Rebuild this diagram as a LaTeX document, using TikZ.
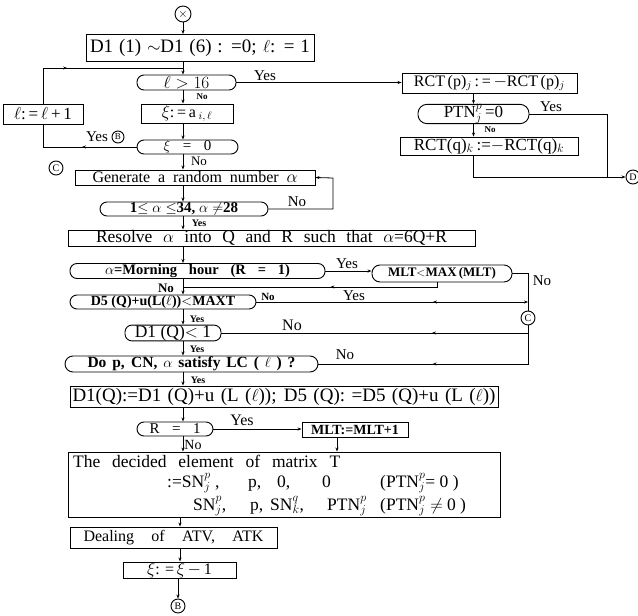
\documentclass[tikz,border=0pt]{standalone}
\usepackage{fontspec}
\setmainfont{Liberation Serif}
\usetikzlibrary{arrows.meta,decorations.markings}
\newcommand\myfs[1]{\fontsize{#1}{#1}\selectfont}
\tikzset{
  bx/.style={draw, line width=0.9pt, inner sep=0pt, rectangle},
  tm/.style={bx, rounded corners=7pt},
  cn/.style={draw, circle, line width=0.9pt, inner sep=0pt, minimum size=14pt, font=\myfs{10}},
  lb/.style={inner sep=0pt, font=\myfs{15}},
  slb/.style={inner sep=0pt, font=\bfseries\myfs{9}},
  ln/.style={line width=0.8pt},
  ar/.style={ln, -{Stealth[length=4pt,width=3pt]}},
  mar/.style={ln, postaction={decorate}, decoration={markings, mark=at position #1 with {\arrow{Stealth[length=4pt,width=3pt]}}}},
  rmar/.style={ln, postaction={decorate}, decoration={markings, mark=at position #1 with {\arrowreversed{Stealth[length=4pt,width=3pt]}}}},
}
\begin{document}
\begin{tikzpicture}[x=1pt,y=-1pt]
\useasboundingbox (0,0) rectangle (638,616);
\coordinate (mx) at (183,0);
\coordinate (mx2) at (180,0);
\coordinate (x437) at (437,0);
\coordinate (x337) at (337,0);
% nodes
\node[cn, minimum size=16pt, font=\myfs{12}] (c0) at (183,14) {$\times$};
\node[bx, minimum width=228pt, minimum height=27pt, font=\myfs{19}] (d1) at (200,48) {\makebox[220pt][s]{D1 (1) $\sim$D1 (6) : =0; $\ell$: = 1}};
\node[tm, minimum width=99pt, minimum height=15pt, font=\myfs{16}] (l16) at (186.5,82.5) {$\ell>16$};
\node[bx, minimum width=92pt, minimum height=19pt, font=\myfs{16}] (xia) at (187,113.5) {$\xi$:\,=\,a\,$_{i,\,\ell}$};
\node[bx, minimum width=80pt, minimum height=20pt, font=\myfs{17}] (linc) at (43,114) {$\ell$:\,=\,$\ell$\,+\,1};
\node[tm, minimum width=101pt, minimum height=14pt, font=\myfs{15}] (xi0) at (187.5,147) {\makebox[48pt][s]{$\xi$ = 0}};
\node[cn] (cC1) at (56,168) {C};
\node[bx, minimum width=240pt, minimum height=15pt, font=\myfs{16}] (gen) at (195,177.5) {\makebox[205pt][s]{Generate a random number $\alpha$}};
\node[tm, minimum width=168pt, minimum height=14pt, font=\bfseries\myfs{15}] (alph) at (184,209) {1$\leq\alpha\leq$34, $\alpha\neq$28};
\node[bx, minimum width=407pt, minimum height=16pt, font=\myfs{17.5}] (res) at (271.5,238) {\makebox[351pt][s]{Resolve $\alpha$ into Q and R such that $\alpha$=6Q+R}};
\node[tm, minimum width=255pt, minimum height=15pt, font=\bfseries\myfs{14.5}] (morn) at (197.5,271) {\makebox[185pt][s]{$\alpha$=Morning hour (R = 1)}};
\node[tm, minimum width=140pt, minimum height=17pt, rounded corners=8pt, font=\bfseries\myfs{13}] (mltmax) at (442,273.5) {MLT$<$MAX\,(MLT)};
\node[tm, minimum width=186pt, minimum height=14pt, font=\bfseries\myfs{14}] (d5) at (163,302) {D5 (Q)+u(L($\ell$))$<$MAXT};
\node[tm, minimum width=96pt, minimum height=14pt, font=\myfs{17.5}] (d1q) at (173,333) {D1 (Q)$<$ 1};
\node[tm, minimum width=253pt, minimum height=16pt, rounded corners=8pt, font=\bfseries\myfs{15.5}] (dop) at (191.5,364) {\makebox[208pt][s]{Do p, CN, $\alpha$ satisfy LC ( $\ell$ ) ?}};
\node[bx, minimum width=428pt, minimum height=21pt, font=\myfs{19}] (d1d5) at (284,396.5) {\makebox[423pt][s]{D1(Q):=D1 (Q)+u (L ($\ell$)); D5 (Q): =D5 (Q)+u (L ($\ell$))}};
\node[tm, minimum width=76pt, minimum height=14pt, font=\myfs{15}] (r1) at (175,429) {\makebox[51pt][s]{R = 1}};
\node[bx, minimum width=106pt, minimum height=15pt, font=\bfseries\myfs{14}] (mltp) at (355,429.5) {MLT:=MLT+1};
\node[bx, minimum width=432pt, minimum height=65pt] (mat) at (284,484.5) {};
\node[bx, minimum width=207pt, minimum height=21pt, font=\myfs{16}] (deal) at (173.5,537.5) {\makebox[180pt][s]{Dealing of ATV, ATK}};
\node[bx, minimum width=113pt, minimum height=16pt, font=\myfs{16}] (xim) at (179.5,570) {$\xi$: =\,$\xi$\,$-$\,1};
\node[cn] (cB) at (178,606) {B};
\node[bx, minimum width=175pt, minimum height=20pt, font=\myfs{16}] (rctp) at (489.5,83) {RCT\,(p)$_j$\,:\,=\,$-$RCT\,(p)$_j$};
\node[tm, minimum width=111pt, minimum height=18pt, rounded corners=9pt, font=\myfs{17}] (ptn) at (473.5,114) {PTN$^p_j$\,=0};
\node[bx, minimum width=178pt, minimum height=18pt, font=\myfs{17}] (rctq) at (489,146) {RCT(q)$_k$\,:=$-$RCT(q)$_k$};
\node[cn] (cD) at (633,177) {D};
\node[cn] (cC2) at (528,318) {C};
% matrix text
\begin{scope}[font=\myfs{17.5}]
\node[anchor=base west, inner sep=0pt] (t1) at (73,467) {\makebox[267pt][s]{The decided element of matrix T}};
\node[anchor=base west, inner sep=0pt] (t2a) at (167,487) {:=SN$^p_j$ ,};
\node[anchor=base west, inner sep=0pt] (t2b) at (248,487) {p,};
\node[anchor=base west, inner sep=0pt] (t2c) at (277,487) {0,};
\node[anchor=base west, inner sep=0pt] (t2d) at (322,487) {0};
\node[anchor=base west, inner sep=0pt] (t2e) at (380,487) {(PTN$^p_j$= 0 )};
\node[anchor=base west, inner sep=0pt] (t3a) at (193,510) {SN$^p_j$,};
\node[anchor=base west, inner sep=0pt] (t3b) at (250,510) {p,};
\node[anchor=base west, inner sep=0pt] (t3c) at (270,510) {SN$^q_k$,};
\node[anchor=base west, inner sep=0pt] (t3d) at (327,510) {PTN$^p_j$};
\node[anchor=base west, inner sep=0pt] (t3e) at (380,510) {(PTN$^p_j\neq$ 0 )};
\end{scope}
% labels
\node[lb] (y1) at (265,76) {Yes};
\node[slb] (n1) at (202,97) {No};
\node[lb] (y2) at (97,137) {Yes};
\node[cn, minimum size=12pt, font=\myfs{9}] (cB1) at (118,137) {B};
\node[lb, font=\myfs{13}] (n2) at (199,161) {No};
\node[lb] (n3) at (297,202) {No};
\node[slb, font=\bfseries\myfs{10}] (y3) at (199,223) {Yes};
\node[lb] (y4) at (347,264) {Yes};
\node[lb] (n4) at (542,281) {No};
\node[lb, font=\bfseries\myfs{13}] (n5) at (166,288) {No};
\node[lb, font=\bfseries\myfs{11}] (n6) at (268,297) {No};
\node[lb] (y5) at (354,296) {Yes};
\node[slb, font=\bfseries\myfs{10}] (y6) at (197,319) {Yes};
\node[lb, font=\myfs{16}] (n7) at (292,325) {No};
\node[slb, font=\bfseries\myfs{10}] (y7) at (197,349) {Yes};
\node[lb] (n8) at (345,355) {No};
\node[slb, font=\bfseries\myfs{10}] (y8) at (198,380) {Yes};
\node[lb, font=\myfs{16}] (y9) at (242,420) {Yes};
\node[lb, font=\myfs{14}] (n9) at (193,445) {No};
\node[lb] (y10) at (551,107) {Yes};
\node[slb] (n10) at (490,130) {No};
% junction coordinates
\coordinate (jl) at (183,68);
\coordinate (jd) at (607,177);
\coordinate (jr) at (333,178);
\coordinate (jm) at (183,287);
% connectors
\draw[ar] (c0) -- (d1.north -| mx);
\draw[ar] (d1.south -| mx) -- (l16.north -| mx);
\draw[ar] (l16.south -| mx) -- (xia.north -| mx);
\draw[ar] (xia.south -| mx) -- (xi0.north -| mx);
\draw[mar=0.47] (xi0.west) -| (linc.south);
\draw[mar=0.34] (linc.north) |- (jl);
\draw[ar] (l16.east) -- (rctp.west |- l16.east);
\draw[ar] (ptn.north |- rctp.south) -- (ptn.north);
\draw[ar] (ptn.south) -- (ptn.south |- rctq.north);
\draw[ar] (ptn.east) -| (jd) -- (cD.west);
\draw[ln] (rctq.south -| ptn.south) |- (jd);
\draw[ar] (xi0.south -| mx) -- (gen.north -| mx);
\draw[ar] (gen.south -| mx) -- (alph.north -| mx);
\draw[ar] (alph.east) -| (jr) -- (gen.east);
\draw[ar] (alph.south -| mx) -- (res.north -| mx);
\draw[ar] (res.south -| mx) -- (morn.north -| mx);
\draw[ar] (morn.east) -- (mltmax.west |- morn.east);
\draw[ar] (morn.south -| mx) -- (d5.north -| mx);
\draw[mar=0.43] (mltmax.south -| x437) |- (jm);
\draw[ln] (mltmax.east) -| (cC2.north);
\draw[ar, rmar=0.65] (d5.east) -- (d5.east -| cC2);
\draw[ar] (d5.south -| mx) -- (d1q.north -| mx);
\draw[rmar=0.67] (d1q.east) -| (cC2.south);
\draw[ar] (d1q.south -| mx) -- (dop.north -| mx);
\draw[rmar=0.46] (dop.east) -| (cC2.south);
\draw[ar] (dop.south -| mx) -- (d1d5.north -| mx);
\draw[ar] (d1d5.south -| mx) -- (r1.north -| mx);
\draw[ar] (r1.east) -- (mltp.west |- r1.east);
\draw[ar] (mltp.south -| x337) -- (mat.north -| x337);
\draw[ar] (r1.south -| mx) -- (mat.north -| mx);
\draw[ar] (mat.south -| mx2) -- (deal.north -| mx2);
\draw[ar] (deal.south -| mx2) -- (xim.north -| mx2);
\draw[ar] (xim.south -| cB) -- (cB.north);
\end{tikzpicture}
\end{document}
